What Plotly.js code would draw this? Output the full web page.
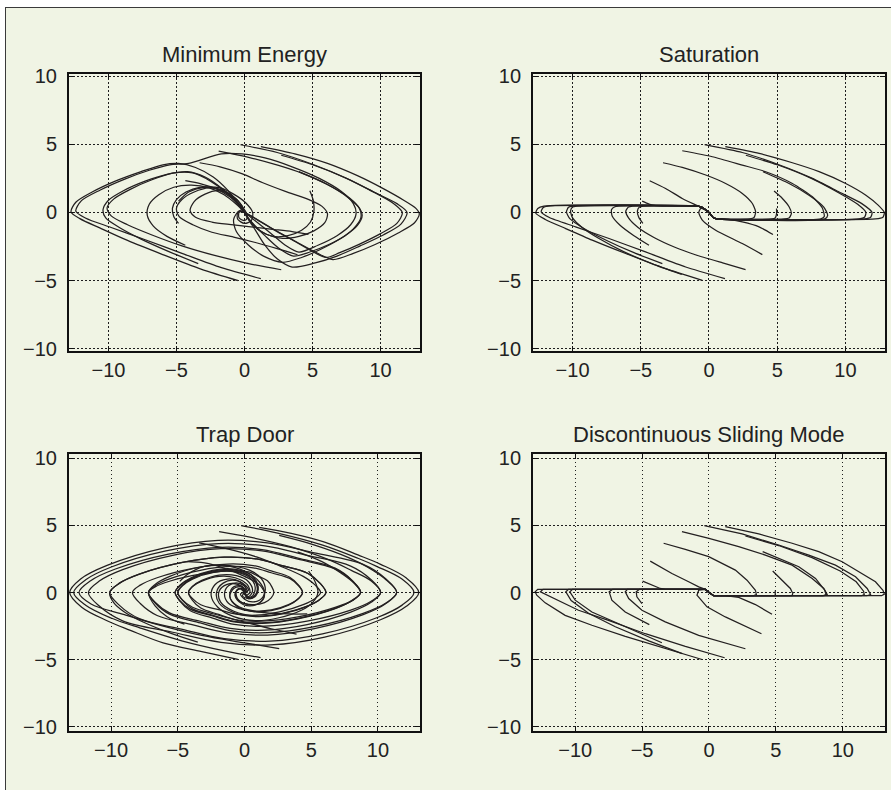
<!DOCTYPE html>
<html>
<head>
<meta charset="utf-8">
<script src="https://cdn.plot.ly/plotly-3.0.1.min.js"></script>
<style>
  html, body { margin: 0; padding: 0; background: #ffffff; }
  #frame { position: absolute; left: 5px; top: 7px; width: 886px; height: 783px;
           border-left: 1px solid #3a3a3a; border-top: 1px solid #3a3a3a; background: #f0f4e4; }
  #chart { width: 885px; height: 782px; }
</style>
</head>
<body>
<div id="frame"><div id="chart"></div></div>
<script>
// ---------- Titles and ticks ----------
const panelTitles = ["Minimum Energy", "Saturation", "Trap Door", "Discontinuous Sliding Mode"];
const tickValues = [-10, -5, 0, 5, 10];
const tickLabels = ["\u221210", "\u22125", "0", "5", "10"];

// ---------- Minimum Energy trajectories (x, y) ----------
const me1 = [[1.2,4.83],[3.7,4.3],[6.1,3.6],[8.3,2.7],[10.2,1.75],[11.7,0.9],[12.6,0.3],[12.85,-0.1],[12.5,-0.75],[11.3,-1.5],[9.6,-2.35],[8,-3.0],[6.5,-3.45],[5.2,-2.9],[3.8,-2.15],[2.4,-1.4],[1.2,-0.7],[0.4,-0.2],[0,0]];
const me2 = [[-0.3,4.97],[2.4,4.4],[5.1,3.5],[7.5,2.5],[9.5,1.5],[11.2,0.65],[11.95,0],[11.5,-0.85],[10.2,-1.65],[8.5,-2.45],[6.8,-3.2],[5.2,-3.7],[3.5,-4.0],[2.4,-3.4],[1.5,-2.4],[0.8,-1.3],[0.25,-0.45],[0,0]];
const me3 = [[2.7,4.2],[5,3.5],[7.4,2.55],[9.4,1.55],[10.9,0.7],[11.6,0],[11.2,-0.8],[10,-1.55],[8.5,-2.3],[7,-2.95],[6,-3.3],[4.8,-2.75],[3.4,-1.95],[2,-1.15],[0.9,-0.5],[0.2,-0.1],[0,0]];
const me4 = [[-1.9,4.5],[0.3,4.05],[2.5,3.45],[4.3,2.85],[6.1,2.05],[7.6,1.1],[8.45,0.3],[8.55,-0.4],[8.0,-1.2],[7.0,-1.95],[5.5,-2.75],[4.2,-3.3],[2.8,-3.65],[1.4,-3.2],[0.3,-2.4],[-0.6,-1.4],[-0.8,-0.5],[-0.4,0.1],[0,0]];
const me5 = [[4.0,3.0],[5.9,2.15],[7.4,1.3],[8.35,0.45],[8.65,-0.2],[8.3,-0.95],[7.4,-1.7],[6.2,-2.35],[4.8,-2.9],[3.6,-3.2],[2.5,-2.6],[1.5,-1.7],[0.7,-0.9],[0.2,-0.3],[0,0]];
const me6 = [[-3.3,3.65],[-1.8,3.35],[-0.2,2.85],[1.3,2.2],[3,1.55],[4.6,1.0],[5.7,0.45],[6.1,-0.1],[5.9,-0.75],[5.1,-1.35],[4,-1.75],[2.8,-1.9],[1.6,-1.6],[0.7,-1.0],[0.2,-0.35],[0,0]];
const me7 = [[4.8,1.6],[5.05,0.9],[5.1,0.1],[4.85,-0.7],[4.2,-1.3],[3.2,-1.7],[2.1,-1.75],[1.1,-1.3],[0.4,-0.6],[0,0]];
const me8 = [[-4.35,2.33],[-3.2,2.1],[-2,1.7],[-1,1.1],[-0.3,0.5],[0.1,0],[0.2,-0.4],[0,-0.6],[-0.4,-0.4],[-0.4,0],[-0.1,0.1],[0,0]];
const me9 = [[-4.85,0.83],[-4.1,1.5],[-3,1.85],[-1.8,1.8],[-0.8,1.35],[0.1,0.7],[0.6,0],[0.5,-0.6],[0,-0.8],[-0.5,-0.5],[-0.5,0],[-0.2,0.2],[0,0]];
const me10 = [[-0.46,-5.0],[-3.2,-4.15],[-6.1,-3.05],[-8.6,-2.05],[-10.6,-1.15],[-12.1,-0.45],[-12.75,0.05],[-12.4,0.75],[-11.2,1.5],[-9.5,2.3],[-7.6,3.0],[-6,3.5],[-4.85,3.6],[-3.6,3.3],[-2.3,2.6],[-1.2,1.6],[-0.4,0.6],[0,0]];
const me11 = [[1.2,-4.85],[-1.7,-4.05],[-4.6,-3.0],[-7.3,-2.0],[-9.8,-1.1],[-11.7,-0.4],[-12.4,0.1],[-12.0,0.85],[-10.6,1.65],[-8.8,2.45],[-7,3.1],[-5.5,3.5],[-4.1,3.6],[-1.7,4.3],[-0.2,4.3],[1.5,4.0],[3.5,3.35],[5.5,2.5],[7.1,1.55],[8.0,0.65],[8.2,-0.1],[7.8,-0.9],[6.8,-1.7],[5.4,-2.4],[4.0,-2.9],[3.0,-2.4],[1.9,-1.5],[0.9,-0.7],[0.2,-0.15],[0,0]];
const me12 = [[2.7,-4.2],[0.3,-3.75],[-2.2,-3.15],[-4.6,-2.45],[-6.8,-1.65],[-8.6,-0.9],[-9.8,-0.25],[-10.1,0.35],[-9.6,1.0],[-8.4,1.7],[-6.8,2.4],[-5.2,2.9],[-3.8,2.9],[-2.5,2.3],[-1.4,1.5],[-0.5,0.6],[0,0]];
const me13 = [[-3.4,-3.75],[-5.6,-2.85],[-7.6,-1.95],[-9.2,-1.1],[-10.2,-0.4],[-10.4,0.2],[-10.0,0.9],[-8.9,1.6],[-7.3,2.3],[-5.7,2.8],[-4.2,3.0],[-2.9,2.6],[-1.7,1.8],[-0.7,0.9],[-0.1,0.2],[0,0]];
const me14 = [[-4.35,-2.4],[-5.7,-1.75],[-6.7,-1.0],[-7.15,-0.2],[-7.0,0.6],[-6.3,1.3],[-5.2,1.85],[-3.9,2.0],[-2.6,1.8],[-1.5,1.3],[-0.6,0.6],[0,0]];
const me15 = [[-4.85,-0.8],[-5.2,-0.3],[-5.3,0.3],[-5.0,0.95],[-4.3,1.5],[-3.3,1.85],[-2.2,1.8],[-1.2,1.35],[-0.4,0.6],[0,0]];
const me16 = [[3.9,-3.1],[2.4,-2.65],[0.8,-2.2],[-0.8,-1.8],[-2.4,-1.45],[-3.8,-0.9],[-4.8,-0.3],[-5.0,0.3],[-4.6,0.95],[-3.7,1.5],[-2.6,1.8],[-1.5,1.6],[-0.6,1.0],[0,0.2],[0.2,-0.2],[0,0]];
const me17 = [[4.7,-1.6],[3.5,-1.4],[2.2,-1.25],[0.8,-1.1],[-0.8,-0.9],[-2.4,-0.7],[-3.6,-0.35],[-4.0,0.15],[-3.7,0.8],[-2.9,1.35],[-1.9,1.6],[-0.9,1.2],[-0.2,0.5],[0,0]];
const minEnergyPaths = [me1,me2,me3,me4,me5,me6,me7,me8,me9,me10,me11,me12,me13,me14,me15,me16,me17];

// ---------- Saturation trajectories ----------
const sat1 = [[1.2,4.83],[3.67,4.34],[6.11,3.65],[8.07,3.0],[10.02,2.13],[11.5,1.27],[12.4,0.54],[12.85,0],[12.75,-0.35],[12.2,-0.47],[0.6,-0.47],[0.3,-0.36],[0,0]];
const sat2 = [[-0.32,4.98],[2.44,4.4],[5.13,3.5],[7.58,2.5],[9.54,1.5],[11.2,0.65],[11.95,0],[11.85,-0.35],[11.4,-0.47],[0.6,-0.47],[0.3,-0.36],[0,0]];
const sat3 = [[2.7,4.2],[5,3.5],[7.5,2.5],[9.5,1.45],[10.9,0.6],[11.5,0],[11.4,-0.35],[11.0,-0.47],[0.6,-0.47],[0.3,-0.36],[0,0]];
const sat4 = [[-1.96,4.53],[0.24,4.09],[2.44,3.48],[4.16,2.99],[6.11,2.13],[7.58,1.15],[8.3,0.35],[8.45,-0.3],[8.2,-0.47],[0.6,-0.47],[0.3,-0.36],[0,0]];
const sat5 = [[3.96,2.99],[5.87,2.13],[7.33,1.27],[8.4,0.42],[8.7,-0.2],[8.5,-0.47],[0.6,-0.47],[0.3,-0.36],[0,0]];
const sat6 = [[-3.37,3.65],[-1.96,3.31],[-0.24,2.75],[1.22,2.13],[2.44,1.4],[3.18,0.66],[3.42,0.05],[3.3,-0.37],[3.0,-0.47],[0.6,-0.47],[0.3,-0.36],[0,0]];
const sat7 = [[4.77,1.57],[5.38,1.03],[5.87,0.42],[6.04,-0.07],[5.87,-0.4],[5.5,-0.47],[0.6,-0.47],[0.3,-0.36],[0,0]];
const sat8 = [[4.95,0.3],[4.95,-0.1],[4.85,-0.4],[4.6,-0.47],[0.6,-0.47],[0.3,-0.36],[0,0]];
const sat9 = [[-4.35,2.33],[-3.18,1.76],[-1.96,1.03],[-1.1,0.61],[-0.6,0.38],[-0.3,0.2],[0,0]];
const sat10 = [[-4.9,0.83],[-4.4,0.62],[-3.9,0.5],[-3.4,0.47],[-0.85,0.47],[-0.5,0.38],[-0.25,0.2],[0,0]];
const sat11 = [[-0.49,-4.98],[-3.18,-4.12],[-6.11,-3.01],[-8.56,-2.03],[-10.5,-1.18],[-12.0,-0.51],[-12.7,-0.05],[-12.55,0.29],[-12.1,0.47],[-0.85,0.47],[-0.5,0.38],[-0.25,0.2],[0,0]];
const sat12 = [[1.17,-4.85],[-1.71,-4.0],[-4.65,-2.89],[-7.33,-1.91],[-9.78,-1.05],[-11.7,-0.37],[-12.3,0.05],[-12.15,0.37],[-11.8,0.47],[-0.85,0.47],[-0.5,0.38],[-0.25,0.2],[0,0]];
const sat13 = [[2.68,-4.19],[1,-3.7],[-1,-3.1],[-2.5,-2.55],[-4,-1.85],[-5.2,-1.1],[-5.9,-0.4],[-6.1,0.1],[-5.9,0.4],[-5.6,0.47],[-0.85,0.47],[-0.5,0.38],[-0.25,0.2],[0,0]];
const sat14 = [[-3.42,-3.75],[-5.5,-2.95],[-7.5,-2.05],[-9.2,-1.15],[-10.2,-0.45],[-10.45,0.05],[-10.3,0.38],[-10.0,0.47],[-0.85,0.47],[-0.5,0.38],[-0.25,0.2],[0,0]];
const sat15 = [[-2.0,-4.55],[-4.2,-3.75],[-6.3,-2.85],[-8.0,-1.95],[-9.3,-1.1],[-10.0,-0.4],[-10.15,0.1],[-10.0,0.4],[-9.7,0.47],[-0.85,0.47],[-0.5,0.38],[-0.25,0.2],[0,0]];
const sat16 = [[-4.4,-2.4],[-5.5,-1.7],[-6.5,-0.95],[-7.1,-0.25],[-7.15,0.2],[-6.9,0.42],[-6.6,0.47],[-0.85,0.47],[-0.5,0.38],[-0.25,0.2],[0,0]];
const sat17 = [[-4.85,-0.8],[-5.15,-0.35],[-5.25,0.1],[-5.1,0.4],[-4.8,0.47],[-0.85,0.47],[-0.5,0.38],[-0.25,0.2],[0,0]];
const sat18 = [[3.91,-3.09],[2.44,-2.28],[0.49,-1.3],[-0.49,-0.56],[-0.75,0],[-0.6,0.3],[-0.3,0.2],[0,0]];
const sat19 = [[4.69,-1.62],[3.67,-1.05],[2.44,-0.69],[1.4,-0.5],[0.9,-0.47],[0.6,-0.47],[0.3,-0.36],[0,0]];
const saturationPaths = [sat1,sat2,sat3,sat4,sat5,sat6,sat7,sat8,sat9,sat10,sat11,sat12,sat13,sat14,sat15,sat16,sat17,sat18,sat19];

// ---------- Trap Door trajectories ----------
const td1 = [[1.1,4.85],[3.5,4.4],[6.0,3.75],[8.5,2.8],[10.2,2.1],[12.1,1.1],[13.06,0],
  [12.15,-1.01],[10.19,-2.03],[6.01,-3.32],[1.96,-3.9],[-1.76,-3.71],[-5.38,-2.96],[-9.13,-2.11],[-10.88,-1.01],[-11.7,0],
  [-10.88,0.85],[-9.13,1.7],[-5.38,2.77],[-1.76,3.26],[1.31,3.1],[4.0,2.48],[6.79,1.76],[8.09,0.85],[8.7,0],
  [8.09,-0.6],[6.79,-1.2],[4.0,-1.96],[1.31,-2.3],[-0.78,-2.19],[-2.39,-1.75],[-4.06,-1.24],[-4.84,-0.6],[-5.2,0],
  [-4.84,0.5],[-4.0,1.05],[-2.4,1.6],[-0.9,1.7],[0.3,1.3],[0.9,0.6],[0.85,-0.15],[0.35,-0.45],[-0.15,-0.25],[0,0]];
const td2 = [[-0.25,4.98],[2.4,4.45],[5.8,3.55],[8.5,2.55],[9.9,1.95],[11.8,1.0],[12.7,0],
  [11.81,-0.94],[9.91,-1.88],[5.84,-3.08],[1.91,-3.62],[-1.52,-3.44],[-4.65,-2.75],[-7.88,-1.95],[-9.39,-0.94],[-10.1,0],
  [-9.39,0.68],[-7.88,1.37],[-4.65,2.24],[-1.52,2.63],[0.92,2.5],[2.81,2.0],[4.76,1.42],[5.67,0.68],[6.1,0],
  [5.67,-0.5],[4.76,-1.0],[2.81,-1.6],[0.9,-1.8],[-0.8,-1.5],[-1.9,-0.8],[-2.1,0],[-1.6,0.7],[-0.7,0.9],[0,0.5],[0.2,0],[0,0]];
const td3 = [[2.6,4.25],[5.2,3.55],[7.8,2.6],[9.2,1.9],[10.6,0.95],[11.4,0],
  [10.6,-0.82],[8.89,-1.65],[5.24,-2.69],[1.71,-3.17],[-1.26,-3.01],[-3.86,-2.41],[-6.55,-1.71],[-7.81,-0.82],[-8.4,0],
  [-7.81,0.55],[-6.55,1.1],[-3.86,1.8],[-1.26,2.12],[0.65,2.01],[2.0,1.61],[3.39,1.14],[4.05,0.55],[4.35,0],
  [4.05,-0.45],[3.3,-0.95],[2.0,-1.35],[0.6,-1.4],[-0.6,-1.0],[-1.1,-0.3],[-0.9,0.35],[-0.3,0.5],[0.1,0.15],[0,0]];
const td4 = [[-1.9,4.53],[0.5,4.1],[3.5,3.4],[6.3,2.45],[8.0,1.65],[9.5,0.85],[10.2,0],
  [9.49,-0.73],[7.96,-1.46],[4.69,-2.39],[1.53,-2.81],[-1.08,-2.67],[-3.31,-2.14],[-5.62,-1.52],[-6.7,-0.73],[-7.2,0],
  [-6.7,0.42],[-5.62,0.84],[-3.31,1.37],[-1.08,1.61],[0.33,1.53],[1.01,1.22],[1.72,0.87],[2.05,0.42],[2.2,0],
  [2.0,-0.4],[1.5,-0.75],[0.6,-0.9],[-0.3,-0.7],[-0.7,-0.2],[-0.5,0.25],[-0.1,0.25],[0,0]];
const td5 = [[3.98,3.03],[5.8,2.3],[7.3,1.4],[8.2,0.7],[8.7,0],
  [8.09,-0.59],[6.79,-1.18],[4.0,-1.92],[1.31,-2.26],[-0.75,-2.15],[-2.3,-1.72],[-3.9,-1.22],[-4.65,-0.59],[-5.0,0],
  [-4.65,0.5],[-3.9,1.0],[-2.3,1.5],[-0.8,1.55],[0.4,1.1],[0.8,0.4],[0.6,-0.25],[0.15,-0.35],[0,0]];
const td6 = [[-3.4,3.7],[-1.5,3.3],[0.9,2.65],[2.6,2.0],[4.4,1.2],[5.3,0.55],[5.7,0],
  [5.3,-0.44],[4.45,-0.88],[2.62,-1.44],[0.86,-1.69],[-0.63,-1.61],[-1.93,-1.28],[-3.28,-0.91],[-3.91,-0.44],[-4.2,0],
  [-3.9,0.45],[-3.2,0.85],[-1.9,1.2],[-0.7,1.1],[0.2,0.6],[0.4,0],[0.1,-0.2],[0,0]];
const td7 = [[4.8,1.6],[5.25,0.9],[5.5,0],[5.1,-0.75],[4.3,-1.3],[2.5,-1.9],[0.8,-2.1],[-0.8,-1.8],[-2.0,-1.1],[-2.5,-0.2],[-2.2,0.6],[-1.3,1.0],[-0.3,0.8],[0.3,0.2],[0,0]];
const td8 = [[-0.5,-4.98],[-3.2,-4.4],[-6.1,-3.75],[-8.6,-2.8],[-10.3,-2.1],[-12.2,-1.1],[-13.1,0],
  [-12.28,1.01],[-10.3,2.02],[-6.07,3.31],[-1.98,3.89],[1.71,3.7],[5.24,2.96],[8.89,2.1],[10.6,1.01],[11.4,0],
  [10.6,-0.78],[8.89,-1.55],[5.24,-2.54],[1.71,-2.99],[-1.08,-2.84],[-3.31,-2.27],[-5.62,-1.61],[-6.7,-0.78],[-7.2,0],
  [-6.7,0.6],[-5.6,1.2],[-3.3,1.9],[-1.1,2.0],[0.7,1.5],[1.5,0.6],[1.4,-0.3],[0.7,-0.7],[0,-0.5],[-0.3,-0.1],[0,0]];
const td9 = [[1.2,-4.85],[-1.5,-4.35],[-4.7,-3.6],[-7.8,-2.65],[-10.0,-1.9],[-11.9,-0.95],[-12.8,0],
  [-11.9,0.95],[-9.98,1.9],[-5.89,3.1],[-1.92,3.65],[1.53,3.47],[4.69,2.77],[7.96,1.97],[9.49,0.95],[10.2,0],
  [9.49,-0.65],[7.96,-1.31],[4.69,-2.13],[1.53,-2.51],[-0.78,-2.38],[-2.39,-1.91],[-4.06,-1.36],[-4.84,-0.65],[-5.2,0],
  [-4.84,0.55],[-4.0,1.1],[-2.4,1.65],[-0.8,1.75],[0.5,1.3],[1.0,0.5],[0.8,-0.2],[0.3,-0.4],[0,0]];
const td10 = [[2.6,-4.18],[0,-3.75],[-3.2,-3.2],[-6.3,-2.45],[-9.0,-1.65],[-11.5,-0.85],[-12.4,0],
  [-11.53,0.88],[-9.67,1.75],[-5.7,2.86],[-1.86,3.37],[1.31,3.2],[4.0,2.56],[6.79,1.82],[8.09,0.88],[8.7,0],
  [8.09,-0.56],[6.79,-1.11],[4.0,-1.82],[1.31,-2.14],[-0.63,-2.03],[-1.93,-1.63],[-3.28,-1.16],[-3.91,-0.56],[-4.2,0],
  [-3.9,0.45],[-3.2,0.9],[-1.9,1.3],[-0.6,1.25],[0.3,0.8],[0.6,0.1],[0.3,-0.3],[0,0]];
const td11 = [[-3.5,-3.7],[-5.5,-3.05],[-7.6,-2.2],[-9.0,-1.45],[-9.8,-0.75],[-10.1,0],
  [-9.39,0.68],[-7.88,1.37],[-4.65,2.24],[-1.52,2.63],[0.92,2.5],[2.81,2.0],[4.76,1.42],[5.67,0.68],[6.1,0],
  [5.67,-0.5],[4.76,-1.0],[2.81,-1.55],[0.9,-1.75],[-0.8,-1.4],[-1.8,-0.7],[-1.9,0.1],[-1.3,0.6],[-0.5,0.6],[0,0.2],[0,0]];
const td12 = [[-4.5,-2.36],[-5.8,-1.8],[-6.7,-1.0],[-7.2,0],
  [-6.7,0.5],[-5.62,1.01],[-3.31,1.65],[-1.08,1.94],[0.65,1.84],[2.0,1.47],[3.39,1.05],[4.05,0.5],[4.35,0],
  [4.05,-0.45],[3.3,-0.9],[2.0,-1.3],[0.6,-1.35],[-0.6,-0.95],[-1.1,-0.3],[-0.8,0.3],[-0.2,0.4],[0,0]];
const td13 = [[3.9,-3.1],[2.0,-2.7],[-0.2,-2.15],[-2.3,-1.6],[-3.9,-1.1],[-4.65,-0.55],[-5.0,0],[-4.65,0.55],[-3.9,1.05],[-2.3,1.55],[-0.75,1.6],[0.5,1.15],[1.0,0.45],[0.85,-0.25],[0.3,-0.45],[0,0]];
const td14 = [[4.7,-1.6],[3.3,-1.6],[1.5,-1.5],[-0.2,-1.25],[-1.2,-0.8],[-1.5,-0.1],[-1.2,0.5],[-0.5,0.7],[0.1,0.35],[0,0]];
const td15 = [[-4.35,2.3],[-3,2.2],[-1.5,1.8],[0,1.2],[1.2,0.5],[1.5,-0.2],[1.1,-0.8],[0.3,-0.9],[-0.5,-0.5],[-0.6,0.1],[-0.2,0.3],[0,0]];
const td16 = [[-4.85,0.83],[-4.2,1.4],[-3.0,1.95],[-1.5,2.0],[0,1.6],[1.1,0.8],[1.5,0],[1.2,-0.7],[0.4,-1.0],[-0.4,-0.7],[-0.7,-0.1],[-0.4,0.3],[0,0]];
const trapDoorPaths = [td1,td2,td3,td4,td5,td6,td7,td8,td9,td10,td11,td12,td13,td14,td15,td16];

// ---------- Discontinuous Sliding Mode trajectories ----------
const dsm1 = [[1.22,4.91],[3.72,4.36],[6.21,3.67],[8.2,3.04],[9.95,2.29],[11.45,1.42],[12.44,0.8],[13.0,0.17],[13.1,-0.12],[12.9,-0.24],[0.35,-0.24],[0,0]];
const dsm2 = [[-0.35,4.99],[2.47,4.36],[5.21,3.54],[7.46,2.79],[9.45,2.04],[10.95,1.17],[11.82,0.3],[12.07,-0.15],[11.8,-0.24],[0.35,-0.24],[0,0]];
const dsm3 = [[2.72,4.21],[5.2,3.5],[7.7,2.6],[9.8,1.6],[11.0,0.8],[11.55,0.1],[11.6,-0.15],[11.4,-0.24],[0.35,-0.24],[0,0]];
const dsm4 = [[-2.02,4.54],[0,4.04],[2.22,3.42],[4.21,2.79],[6.21,2.04],[7.71,1.05],[8.58,0.3],[8.83,-0.15],[8.6,-0.24],[0.35,-0.24],[0,0]];
const dsm5 = [[4.01,3.04],[5.21,2.54],[6.71,1.92],[7.96,1.05],[8.65,0.17],[8.75,-0.15],[8.5,-0.24],[0.35,-0.24],[0,0]];
const dsm6 = [[-3.39,3.67],[-1.77,3.22],[-0.02,2.67],[1.97,1.67],[2.84,0.92],[3.47,0.17],[3.54,-0.15],[3.3,-0.24],[0.35,-0.24],[0,0]];
const dsm7 = [[4.76,1.6],[5.46,0.92],[6.08,0.3],[6.26,-0.07],[6.2,-0.24],[0.35,-0.24],[0,0]];
const dsm8 = [[4.95,0.15],[4.95,-0.24],[0.35,-0.24],[0,0]];
const dsm9 = [[-4.39,2.34],[-2.77,1.42],[-1.52,0.8],[-0.77,0.42],[-0.27,0.24],[0,0]];
const dsm10 = [[-4.96,0.85],[-4.26,0.55],[-3.64,0.3],[-3.27,0.24],[-0.27,0.24],[0,0]];
const dsm11 = [[-0.52,-4.99],[-3.27,-4.19],[-6.26,-3.27],[-8.75,-2.44],[-10.75,-1.7],[-12.24,-0.77],[-12.87,-0.2],[-12.99,0.05],[-12.8,0.24],[-0.27,0.24],[0,0]];
const dsm12 = [[1.17,-4.86],[-1.77,-4.01],[-4.76,-3.07],[-7.51,-2.07],[-9.75,-1.32],[-11.6,-0.45],[-12.6,0.05],[-12.4,0.24],[-0.27,0.24],[0,0]];
const dsm13 = [[2.72,-4.19],[-0.77,-3.19],[-3.27,-2.19],[-5.01,-1.32],[-6.0,-0.45],[-6.26,0.05],[-6.1,0.24],[-0.27,0.24],[0,0]];
const dsm14 = [[-3.52,-3.74],[-6.26,-2.57],[-8.75,-1.45],[-10.0,-0.57],[-10.4,0.05],[-10.2,0.24],[-0.27,0.24],[0,0]];
const dsm15 = [[-2.0,-4.55],[-4.5,-3.6],[-7.0,-2.55],[-9.0,-1.55],[-10.3,-0.6],[-10.7,0.05],[-10.5,0.24],[-0.27,0.24],[0,0]];
const dsm16 = [[-4.46,-2.39],[-6.26,-1.45],[-7.26,-0.57],[-7.46,0.05],[-7.2,0.24],[-0.27,0.24],[0,0]];
const dsm17 = [[-5.01,-0.82],[-5.39,-0.32],[-5.44,0.05],[-5.2,0.24],[-0.27,0.24],[0,0]];
const dsm18 = [[3.92,-3.07],[1.22,-1.82],[-0.15,-1.07],[-0.9,-0.2],[-0.77,0.17],[-0.27,0.24],[0,0]];
const dsm19 = [[4.71,-1.62],[3.47,-0.9],[2.22,-0.37],[1.22,-0.24],[0.35,-0.24],[0,0]];
const slidingPaths = [dsm1,dsm2,dsm3,dsm4,dsm5,dsm6,dsm7,dsm8,dsm9,dsm10,dsm11,dsm12,dsm13,dsm14,dsm15,dsm16,dsm17,dsm18,dsm19];

// ---------- Build traces ----------
const lineColor = "#231f20";
const panels = [
  {paths: minEnergyPaths, xa: "x",  ya: "y",  shape: "spline", smooth: 0.8},
  {paths: saturationPaths, xa: "x2", ya: "y2", shape: "spline", smooth: 0.6},
  {paths: trapDoorPaths,  xa: "x3", ya: "y3", shape: "spline", smooth: 1.0},
  {paths: slidingPaths,   xa: "x4", ya: "y4", shape: "linear", smooth: 0}
];
const traces = [];
panels.forEach(p => {
  p.paths.forEach(path => {
    traces.push({
      type: "scatter", mode: "lines",
      x: path.map(pt => pt[0]), y: path.map(pt => pt[1]),
      xaxis: p.xa, yaxis: p.ya,
      line: {color: lineColor, width: 1.25, shape: p.shape, smoothing: p.smooth},
      hoverinfo: "skip", showlegend: false
    });
  });
});

const fontFam = "Liberation Sans, Arial, Helvetica, sans-serif";
function axisBase(range, domain, anchor, standoff) {
  return {
    range: range, domain: domain, anchor: anchor,
    tickmode: "array", tickvals: tickValues, ticktext: tickLabels,
    showgrid: true, gridcolor: "#1e1e1e", gridwidth: 1, griddash: "1.5px,2.5px",
    zeroline: false, showline: true, mirror: "ticks", linecolor: "#111", linewidth: 2,
    ticks: "inside", ticklen: 5, tickcolor: "#111", tickwidth: 1,
    tickfont: {family: fontFam, size: 20, color: "#222"},
    ticklabelstandoff: standoff, fixedrange: true
  };
}
const topX = [-12.9, 12.9], topY = [-10.16, 10.16];
const botX = [-13.15, 13.15], botY = [-10.32, 10.32];
const colL = [0.0712, 0.4678], colR = [0.5955, 0.9932];
const rowT = [0.5614, 0.9156], rowB = [0.0754, 0.4297];

const layout = {
  width: 885, height: 782,
  margin: {l: 0, r: 0, t: 0, b: 0},
  paper_bgcolor: "#f0f4e4", plot_bgcolor: "#f0f4e4",
  showlegend: false,
  font: {family: fontFam, color: "#222"},
  xaxis:  axisBase(topX, colL, "y", 0),
  yaxis:  axisBase(topY, rowT, "x", 6),
  xaxis2: axisBase(topX, colR, "y2", 0),
  yaxis2: axisBase(topY, rowT, "x2", 6),
  xaxis3: axisBase(botX, colL, "y3", 0),
  yaxis3: axisBase(botY, rowB, "x3", 6),
  xaxis4: axisBase(botX, colR, "y4", 0),
  yaxis4: axisBase(botY, rowB, "x4", 6),
  annotations: panelTitles.map((t, i) => ({
    text: t, showarrow: false,
    xref: (i === 0 ? "x" : "x" + (i + 1)) + " domain",
    yref: (i === 0 ? "y" : "y" + (i + 1)) + " domain",
    x: 0.5, y: 1, xanchor: "center", yanchor: "bottom", yshift: 5,
    font: {family: fontFam, size: 22, color: "#222"}
  }))
};

Plotly.newPlot("chart", traces, layout, {displayModeBar: false, staticPlot: true});
</script>
</body>
</html>
